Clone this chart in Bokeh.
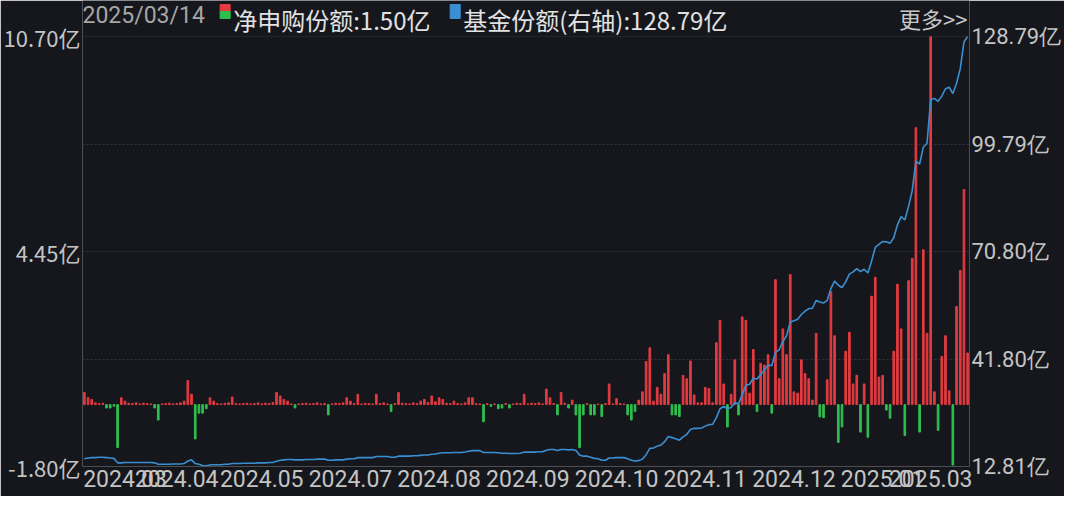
from bokeh.plotting import figure
from bokeh.models import (ColumnDataSource, Range1d, LinearAxis, FixedTicker,
                          Grid, CustomJSTickFormatter, BoxAnnotation)
from bokeh.core.properties import value
from bokeh.embed import file_html
from bokeh.resources import INLINE

# ---------------- data ----------------
latest_date = "2025/03/14"

# daily net subscription (亿份), one value per trading day
net_flow = [
    0.35, 0.20, 0.15, 0.05, 0.03, 0.04, -0.10, -0.10, -0.05, -1.25,
    0.20, 0.10, 0.04, 0.03, 0.05, 0.02, 0.04, 0.03, 0.02, -0.10,
    -0.45, 0.02, 0.03, 0.04, 0.02, 0.03, 0.05, 0.10, 0.70, 0.30,
    -1.00, -0.25, -0.25, -0.12, 0.20, 0.10, 0.03, 0.02, 0.04, 0.05,
    0.22, 0.03, 0.02, 0.03, 0.04, 0.02, 0.03, 0.05, 0.02, 0.04,
    0.03, 0.06, 0.35, 0.25, 0.15, 0.10, 0.02, -0.10, 0.02, 0.03,
    0.04, 0.02, 0.03, 0.05, 0.02, 0.03, -0.30, 0.02, 0.04, 0.03,
    0.05, 0.20, 0.10, 0.03, 0.30, 0.02, 0.04, 0.03, 0.02, 0.30,
    0.03, 0.05, 0.02, -0.20, 0.03, 0.35, 0.04, 0.03, 0.02, 0.05,
    0.03, 0.10, 0.15, 0.06, 0.25, 0.08, 0.20, 0.15, 0.04, 0.03,
    0.10, 0.03, 0.02, 0.05, 0.20, 0.20, 0.03, 0.02, -0.50, 0.03,
    -0.05, 0.02, -0.12, -0.10, 0.03, -0.10, 0.02, 0.04, 0.03, 0.30,
    0.02, 0.04, 0.03, 0.05, 0.02, 0.45, 0.20, 0.03, -0.30, 0.35,
    0.04, -0.10, 0.13, -0.30, -1.25, -0.30, 0.03, -0.30, -0.30, 0.02,
    -0.35, 0.03, 0.60, 0.02, 0.17, 0.03, 0.02, -0.30, -0.45, -0.20,
    0.13, 0.37, 1.25, 1.65, 0.10, 0.50, 0.30, 0.90, 1.45, -0.30,
    -0.30, -0.35, 0.85, 0.75, 1.27, 0.28, 0.05, 0.05, 0.50, 0.47,
    0.05, 1.80, 2.45, 0.60, -0.65, 0.30, 1.30, -0.30, 2.55, 2.45,
    0.33, 1.60, -0.20, 1.20, 1.15, 1.45, -0.25, 3.63, 0.75, 2.20,
    1.45, 3.78, 0.37, 0.33, 1.30, 0.90, 0.75, 0.13, 2.07, -0.36,
    -0.38, 0.72, 3.28, 2.00, -1.10, -0.65, 1.55, 2.10, 0.60, 0.85,
    -0.80, 0.60, -0.95, 3.15, 3.70, 0.80, 0.85, -0.16, -0.40, 1.55,
    3.50, 2.20, -0.90, 3.60, 4.25, 8.05, -0.80, 4.50, 2.07, 10.70,
    0.37, -0.75, 1.40, 2.00, 0.40, -1.76, 2.85, 3.90, 6.25, 1.50,
]

# fund shares (亿份), right axis
fund_shares = [
    14.9, 15.1, 15.2, 15.2, 15.3, 15.3, 15.2, 15.1, 15.0, 13.8,
    13.8, 13.9, 13.9, 13.9, 13.9, 13.9, 13.9, 13.9, 13.9, 13.8,
    13.4, 13.4, 13.4, 13.4, 13.5, 13.5, 13.5, 13.6, 14.3, 14.6,
    13.6, 13.4, 13.1, 13.0, 13.2, 13.3, 13.3, 13.3, 13.4, 13.4,
    13.6, 13.6, 13.6, 13.7, 13.7, 13.7, 13.7, 13.8, 13.8, 13.8,
    13.9, 13.9, 14.2, 14.5, 14.6, 14.7, 14.7, 14.6, 14.6, 14.6,
    14.7, 14.7, 14.7, 14.8, 14.8, 14.8, 14.5, 14.5, 14.6, 14.6,
    14.6, 14.8, 14.9, 14.9, 15.2, 15.2, 15.2, 15.2, 15.2, 15.5,
    15.5, 15.5, 15.5, 15.3, 15.3, 15.6, 15.6, 15.6, 15.6, 15.7,
    15.7, 15.8, 15.9, 15.9, 16.1, 16.2, 16.4, 16.5, 16.5, 16.5,
    16.6, 16.6, 16.6, 16.7, 16.9, 17.1, 17.1, 17.1, 16.6, 16.6,
    16.6, 16.6, 16.5, 16.4, 16.4, 16.3, 16.3, 16.3, 16.4, 16.7,
    16.7, 16.7, 16.7, 16.8, 16.8, 17.2, 17.4, 17.4, 17.1, 17.4,
    17.4, 17.3, 17.4, 17.1, 15.9, 15.6, 15.6, 15.3, 15.0, 14.9,
    14.5, 14.5, 15.1, 15.1, 15.2, 15.2, 15.2, 14.9, 14.5, 14.3,
    14.4, 14.8, 16.0, 17.7, 17.8, 18.3, 18.6, 19.5, 20.9, 20.6,
    20.3, 19.9, 20.8, 21.5, 22.8, 23.1, 23.1, 23.2, 23.7, 24.1,
    24.2, 26.0, 28.4, 29.0, 28.4, 28.7, 30.0, 29.7, 32.2, 34.7,
    35.0, 36.6, 36.4, 37.6, 38.8, 40.2, 40.0, 43.6, 44.3, 46.5,
    48.0, 51.8, 52.1, 52.5, 53.8, 54.7, 55.4, 55.5, 57.6, 57.2,
    56.9, 57.6, 60.8, 62.8, 61.7, 61.1, 62.6, 64.7, 65.3, 66.2,
    65.4, 66.0, 65.0, 68.2, 71.9, 72.7, 73.5, 73.4, 73.0, 74.5,
    78.0, 80.2, 79.3, 82.9, 87.2, 95.2, 94.4, 98.9, 100.0, 111.7,
    112.1, 111.3, 112.7, 114.7, 115.1, 113.4, 116.2, 120.1, 127.3, 128.79,
]

# x-axis labels and the bar index each one is centred on
tick_index = [11, 25, 48, 72, 96, 120, 144, 168, 192, 216, 229]
tick_labels = ["2024.03", "2024.04", "2024.05", "2024.07", "2024.08", "2024.09",
               "2024.10", "2024.11", "2024.12", "2025.01", "2025.03"]

left_ticks = [-1.80, 4.45, 10.70]
right_ticks = [12.81, 41.80, 70.80, 99.79, 128.79]

# ---------------- style / layout ----------------
BG = "#15171c"
RED = "#e33b41"
GREEN = "#2fbf4f"
BLUE = "#3a8fd2"
TXT = "#c4c4c4"
CJK = "Noto Sans CJK SC"

W, H = 1064, 496
BL, BB = 77, 30
BR_MIN = 90        # requested minimum right border
BR_EFF = 104       # right border the right axis actually takes
HEAD = 36          # px of header strip inside the frame, above the chart box
CHART_H = H - BB - HEAD

n = len(net_flow)
lo, hi = left_ticks[0], left_ticks[-1]
rlo, rhi = right_ticks[0], right_ticks[-1]
upp_l = (hi - lo) / CHART_H
upp_r = (rhi - rlo) / CHART_H

idx = list(range(n))
colors = [RED if v >= 0 else GREEN for v in net_flow]
src = ColumnDataSource(dict(x=idx, flow=net_flow, color=colors, shares=fund_shares))

p = figure(width=W, height=H, output_backend="svg", toolbar_location=None,
           x_range=Range1d(-0.5, n - 0.5),
           y_range=Range1d(lo, hi + HEAD * upp_l),
           min_border_left=BL, min_border_right=BR_MIN, min_border_top=0,
           min_border_bottom=BB,
           background_fill_color=BG, border_fill_color=BG)
p.extra_y_ranges = {"right": Range1d(rlo, rhi + HEAD * upp_r)}
p.outline_line_color = None
p.xgrid.visible = False
p.ygrid.visible = False

grid = Grid(dimension=1, ticker=FixedTicker(ticks=right_ticks[1:-1]),
            y_range_name="right", grid_line_color="#30343c",
            grid_line_dash="2 2", grid_line_width=1)
p.add_layout(grid)

# chart box border
p.add_layout(BoxAnnotation(left=-0.5, right=n - 0.5, bottom=lo, top=hi,
                           fill_alpha=0, line_color="#3a3e46", line_width=1.5))

p.vbar(x="x", top="flow", bottom=0, width=0.45, color="color", source=src)
p.line(x="x", y="shares", y_range_name="right", line_color=BLUE,
       line_width=1.6, source=src)

fmt = CustomJSTickFormatter(code="return tick.toFixed(2) + '亿';")

p.yaxis.ticker = FixedTicker(ticks=left_ticks)
p.yaxis.formatter = fmt

raxis = LinearAxis(y_range_name="right", ticker=FixedTicker(ticks=right_ticks),
                   formatter=fmt)
p.add_layout(raxis, "right")

p.xaxis.ticker = FixedTicker(ticks=tick_index)
p.xaxis.major_label_overrides = {i: t for i, t in zip(tick_index, tick_labels)}

for ax in [p.xaxis[0], p.yaxis[0], raxis]:
    ax.axis_line_color = None
    ax.major_tick_line_color = None
    ax.minor_tick_line_color = None
    ax.major_tick_in = 0
    ax.major_tick_out = 0
    ax.minor_tick_in = 0
    ax.minor_tick_out = 0
    ax.major_label_text_color = TXT
    ax.major_label_standoff = 2
p.yaxis[0].major_label_text_font = CJK
p.yaxis[0].major_label_text_font_size = "22px"
raxis.major_label_text_font = "Roboto"
raxis.major_label_text_font_size = "22px"
p.xaxis[0].major_label_text_font = "Roboto"
p.xaxis[0].major_label_text_font_size = "23px"
p.xaxis[0].major_label_standoff = 3

# ---------------- header legend (inside the frame, above the chart box) ----
ppu = (W - BL - BR_EFF) / n
FRAME_RIGHT_IMG = 8 + W - BR_EFF


def hx(img_x):
    return -0.5 + (img_x - 8 - BL) / ppu


def hy(img_y):
    return hi + (44 - img_y) * upp_l


def htext(txt, img_x, color, font, size, align="left"):
    p.text(x=[hx(img_x)], y=[hy(9)], text=[txt], text_color=color,
           text_font=value(font), text_font_size=value(size),
           text_align=align, text_baseline="top")


htext(latest_date, 85, "#a6a6a6", "Roboto", "23px")
p.quad(left=[hx(222)], right=[hx(232)], top=[hy(12)], bottom=[hy(19)], color=RED)
p.quad(left=[hx(222)], right=[hx(232)], top=[hy(19)], bottom=[hy(26)], color=GREEN)
htext("净申购份额:%.2f亿" % net_flow[-1], 235, "#e2e2e2", CJK, "24px")
p.quad(left=[hx(451)], right=[hx(461)], top=[hy(12)], bottom=[hy(26)], color=BLUE)
htext("基金份额(右轴):%.2f亿" % fund_shares[-1], 464, "#e2e2e2", CJK, "24px")
htext("更多>>", FRAME_RIGHT_IMG - 2, "#c8c8c8", CJK, "22px", align="right")

open("out.html", "w").write(file_html(p, INLINE))
